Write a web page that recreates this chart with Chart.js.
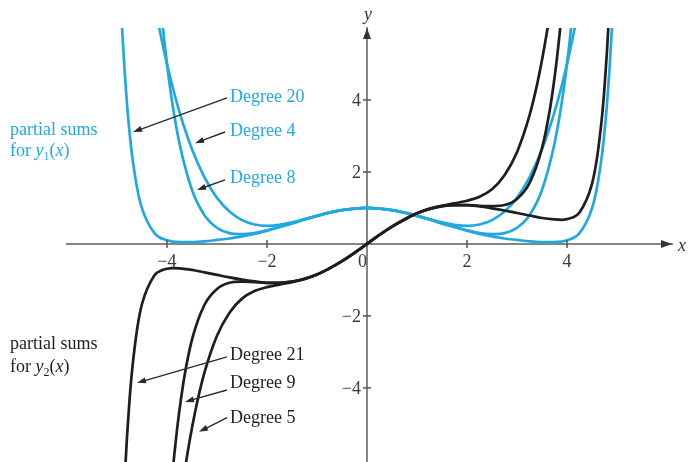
<!DOCTYPE html>
<html>
<head>
<meta charset="utf-8">
<script src="https://cdn.jsdelivr.net/npm/chart.js@4.4.1/dist/chart.umd.min.js"></script>
<style>
  html, body { margin: 0; padding: 0; background: #fff; }
  #wrap { width: 689px; height: 462px; }
</style>
</head>
<body>
<div id="wrap"><canvas id="seriesChart" width="689" height="462"></canvas></div>
<script>
// Partial sums for y1(x) (blue) as [x, y]
const y1Degree4 = [
  [-4.2, 6.31], [-4.1, 5.63], [-4, 5.0], [-3.9, 4.43], [-3.75, 3.66], [-3.5, 2.63], [-3.25, 1.85],
  [-3, 1.28], [-2.75, 0.90], [-2.5, 0.66], [-2.25, 0.54], [-2, 0.50], [-1.75, 0.53], [-1.5, 0.60],
  [-1.25, 0.69], [-1, 0.78], [-0.75, 0.87], [-0.5, 0.94], [-0.25, 0.98], [0, 1],
  [0.25, 0.98], [0.5, 0.94], [0.75, 0.87], [1, 0.78], [1.25, 0.69], [1.5, 0.60], [1.75, 0.53],
  [2, 0.50], [2.25, 0.54], [2.5, 0.66], [2.75, 0.90], [3, 1.28], [3.25, 1.85], [3.5, 2.63],
  [3.75, 3.66], [3.9, 4.43], [4, 5.0], [4.1, 5.63], [4.2, 6.31]
];
const y1Degree8 = [
  [-4.1, 6.25], [-4.05, 5.60], [-4, 5.0], [-3.9, 3.97], [-3.75, 2.79], [-3.5, 1.50], [-3.25, 0.80],
  [-3, 0.45], [-2.75, 0.30], [-2.5, 0.27], [-2.25, 0.30], [-2, 0.375], [-1.75, 0.47], [-1.5, 0.57],
  [-1.25, 0.68], [-1, 0.78], [-0.75, 0.87], [-0.5, 0.94], [-0.25, 0.98], [0, 1],
  [0.25, 0.98], [0.5, 0.94], [0.75, 0.87], [1, 0.78], [1.25, 0.68], [1.5, 0.57], [1.75, 0.47],
  [2, 0.375], [2.25, 0.30], [2.5, 0.27], [2.75, 0.30], [3, 0.45], [3.25, 0.80], [3.5, 1.50],
  [3.75, 2.79], [3.9, 3.97], [4, 5.0], [4.05, 5.60], [4.1, 6.25]
];
const y1Degree20 = [
  [-4.95, 7.49], [-4.9, 6.03], [-4.85, 4.85], [-4.8, 3.89], [-4.75, 3.11], [-4.7, 2.48], [-4.6, 1.57],
  [-4.5, 0.99], [-4.25, 0.30], [-4, 0.10], [-3.75, 0.05], [-3.5, 0.05], [-3.25, 0.07], [-3, 0.11],
  [-2.75, 0.15], [-2.5, 0.21], [-2.25, 0.28], [-2, 0.37], [-1.75, 0.47], [-1.5, 0.57], [-1.25, 0.68],
  [-1, 0.78], [-0.75, 0.87], [-0.5, 0.94], [-0.25, 0.98], [0, 1],
  [0.25, 0.98], [0.5, 0.94], [0.75, 0.87], [1, 0.78], [1.25, 0.68], [1.5, 0.57], [1.75, 0.47],
  [2, 0.37], [2.25, 0.28], [2.5, 0.21], [2.75, 0.15], [3, 0.11], [3.25, 0.07], [3.5, 0.05],
  [3.75, 0.05], [4, 0.10], [4.25, 0.30], [4.5, 0.99], [4.6, 1.57], [4.7, 2.48], [4.75, 3.11],
  [4.8, 3.89], [4.85, 4.85], [4.9, 6.03], [4.95, 7.49]
];

// Partial sums for y2(x) (black)
const y2Degree5 = [
  [-3.65, -6.34], [-3.6, -5.90], [-3.55, -5.49], [-3.5, -5.11], [-3.4, -4.42], [-3.25, -3.57],
  [-3, -2.55], [-2.75, -1.91], [-2.5, -1.52], [-2.25, -1.31], [-2, -1.20], [-1.75, -1.13],
  [-1.5, -1.06], [-1.25, -0.98], [-1, -0.85], [-0.75, -0.68], [-0.5, -0.48], [-0.25, -0.25], [0, 0],
  [0.25, 0.25], [0.5, 0.48], [0.75, 0.68], [1, 0.85], [1.25, 0.98], [1.5, 1.06], [1.75, 1.13],
  [2, 1.20], [2.25, 1.31], [2.5, 1.52], [2.75, 1.91], [3, 2.55], [3.25, 3.57], [3.4, 4.42],
  [3.5, 5.11], [3.55, 5.49], [3.6, 5.90], [3.65, 6.34]
];
const y2Degree9 = [
  [-3.9, -6.52], [-3.85, -5.80], [-3.8, -5.17], [-3.75, -4.61], [-3.65, -3.67], [-3.5, -2.66],
  [-3.25, -1.69], [-3, -1.25], [-2.75, -1.08], [-2.5, -1.05], [-2.25, -1.06], [-2, -1.08],
  [-1.75, -1.08], [-1.5, -1.05], [-1.25, -0.97], [-1, -0.85], [-0.75, -0.68], [-0.5, -0.48],
  [-0.25, -0.25], [0, 0],
  [0.25, 0.25], [0.5, 0.48], [0.75, 0.68], [1, 0.85], [1.25, 0.97], [1.5, 1.05], [1.75, 1.08],
  [2, 1.08], [2.25, 1.06], [2.5, 1.05], [2.75, 1.08], [3, 1.25], [3.25, 1.69], [3.5, 2.66],
  [3.65, 3.67], [3.75, 4.61], [3.8, 5.17], [3.85, 5.80], [3.9, 6.52]
];
const y2Degree21 = [
  [-4.85, -6.63], [-4.8, -5.36], [-4.75, -4.35], [-4.7, -3.54], [-4.6, -2.39], [-4.5, -1.67],
  [-4.25, -0.87], [-4.1, -0.73], [-4, -0.69], [-3.9, -0.67], [-3.75, -0.68], [-3.5, -0.72],
  [-3.25, -0.79], [-3, -0.86], [-2.75, -0.93], [-2.5, -0.99], [-2.25, -1.04], [-2, -1.08],
  [-1.75, -1.08], [-1.5, -1.05], [-1.25, -0.97], [-1, -0.85], [-0.75, -0.68], [-0.5, -0.48],
  [-0.25, -0.25], [0, 0],
  [0.25, 0.25], [0.5, 0.48], [0.75, 0.68], [1, 0.85], [1.25, 0.97], [1.5, 1.05], [1.75, 1.08],
  [2, 1.08], [2.25, 1.04], [2.5, 0.99], [2.75, 0.93], [3, 0.86], [3.25, 0.79], [3.5, 0.72],
  [3.75, 0.68], [3.9, 0.67], [4, 0.69], [4.1, 0.73], [4.25, 0.87], [4.5, 1.67], [4.6, 2.39],
  [4.7, 3.54], [4.75, 4.35], [4.8, 5.36], [4.85, 6.63]
];

const xTickValues = [-4, -2, 0, 2, 4];
const yTickValues = [-4, -2, 2, 4];

const BLUE = 'rgb(33,168,225)';
const BLACK = '#1e1e1e';
const AXIS = '#858585';
const SERIF = '"Liberation Serif", "DejaVu Serif", serif';

// callouts: text anchor and arrow, in data units
const callouts = [
  { text: 'Degree 20', color: BLUE,  at: [-2.74, 4.08],  from: [-2.8, 4.06],  to: [-4.68, 3.11] },
  { text: 'Degree 4',  color: BLUE,  at: [-2.74, 3.14],  from: [-2.84, 3.11], to: [-3.44, 2.80] },
  { text: 'Degree 8',  color: BLUE,  at: [-2.74, 1.83],  from: [-2.84, 1.78], to: [-3.40, 1.50] },
  { text: 'Degree 21', color: BLACK, at: [-2.74, -3.09], from: [-2.8, -3.14], to: [-4.60, -3.86] },
  { text: 'Degree 9',  color: BLACK, at: [-2.74, -3.86], from: [-2.8, -4.06], to: [-3.64, -4.39] },
  { text: 'Degree 5',  color: BLACK, at: [-2.74, -4.84], from: [-2.8, -4.83], to: [-3.36, -5.22] }
];
const groupNotes = [
  { color: BLUE,  sub: '1', at: [-7.14, 3.17], gap: 0.6 },
  { color: BLACK, sub: '2', at: [-7.14, -2.8], gap: 0.64 }
];

const minusLabel = v => (v < 0 ? '\u2212' + Math.abs(v) : (v === 0 ? '0\u2002' : String(v)));

function arrow(ctx, x1, y1, x2, y2) {
  const a = Math.atan2(y2 - y1, x2 - x1);
  const len = 9, half = 3;
  ctx.beginPath();
  ctx.moveTo(x1, y1);
  ctx.lineTo(x2 - Math.cos(a) * len * 0.8, y2 - Math.sin(a) * len * 0.8);
  ctx.stroke();
  ctx.beginPath();
  ctx.moveTo(x2, y2);
  ctx.lineTo(x2 - Math.cos(a) * len - Math.sin(a) * half, y2 - Math.sin(a) * len + Math.cos(a) * half);
  ctx.lineTo(x2 - Math.cos(a) * len + Math.sin(a) * half, y2 - Math.sin(a) * len - Math.cos(a) * half);
  ctx.closePath();
  ctx.fill();
}

const figureNotes = {
  id: 'figureNotes',
  afterDraw(chart) {
    const { ctx, scales: { x, y } } = chart;
    const px = v => x.getPixelForValue(v);
    const py = v => y.getPixelForValue(v);
    const x0 = px(0), y0 = py(0);
    ctx.save();

    // tick marks crossing the axes
    ctx.strokeStyle = '#555';
    ctx.lineWidth = 1.5;
    xTickValues.filter(v => v !== 0).forEach(v => {
      ctx.beginPath(); ctx.moveTo(px(v), y0 - 4); ctx.lineTo(px(v), y0 + 4); ctx.stroke();
    });
    yTickValues.forEach(v => {
      ctx.beginPath(); ctx.moveTo(x0 - 4, py(v)); ctx.lineTo(x0 + 4, py(v)); ctx.stroke();
    });

    // y tick labels, right-aligned left of the axis
    ctx.fillStyle = '#3a3a3a';
    ctx.font = '18px ' + SERIF;
    ctx.textAlign = 'right';
    ctx.textBaseline = 'middle';
    y.ticks.forEach(t => ctx.fillText(minusLabel(t.value), x0 - 6, py(t.value) + 1));

    // arrowheads at the axis ends + axis names
    ctx.fillStyle = '#333';
    const xe = px(x.max), ye = py(y.max);
    ctx.beginPath(); ctx.moveTo(xe, y0); ctx.lineTo(xe - 11, y0 - 4); ctx.lineTo(xe - 11, y0 + 4); ctx.closePath(); ctx.fill();
    ctx.beginPath(); ctx.moveTo(x0, ye); ctx.lineTo(x0 - 4, ye + 11); ctx.lineTo(x0 + 4, ye + 11); ctx.closePath(); ctx.fill();
    ctx.font = 'italic 18px ' + SERIF;
    ctx.textAlign = 'center';
    ctx.fillText('y', x0 + 1, ye - 13);
    ctx.textAlign = 'left';
    ctx.fillText('x', xe + 6, y0 + 2);

    // callouts
    callouts.forEach(c => {
      ctx.strokeStyle = '#2a2a2a';
      ctx.fillStyle = '#2a2a2a';
      ctx.lineWidth = 1.4;
      arrow(ctx, px(c.from[0]), py(c.from[1]), px(c.to[0]), py(c.to[1]));
      ctx.fillStyle = c.color;
      ctx.font = '18px ' + SERIF;
      ctx.textAlign = 'left';
      ctx.fillText(c.text, px(c.at[0]), py(c.at[1]));
    });

    // "partial sums for y_n(x)"
    groupNotes.forEach(g => {
      const lx = px(g.at[0]);
      const l1 = py(g.at[1]);
      const l2 = py(g.at[1] - g.gap);
      ctx.fillStyle = g.color;
      ctx.textAlign = 'left';
      ctx.font = '18px ' + SERIF;
      ctx.fillText('partial sums', lx, l1);
      let cx = lx;
      const put = (t, font, dy) => {
        ctx.font = font;
        ctx.fillText(t, cx, l2 + (dy || 0));
        cx += ctx.measureText(t).width;
      };
      put('for ', '18px ' + SERIF);
      put('y', 'italic 18px ' + SERIF);
      put(g.sub, '12px ' + SERIF, 5);
      put('(', '18px ' + SERIF);
      put('x', 'italic 18px ' + SERIF);
      put(')', '18px ' + SERIF);
    });
    ctx.restore();
  }
};

const toPoints = arr => arr.map(([x, y]) => ({ x, y }));
const curve = (label, pts, color) => ({
  label,
  data: toPoints(pts),
  borderColor: color,
  borderWidth: 2.7,
  pointRadius: 0,
  cubicInterpolationMode: 'monotone',
  clip: 0,
  fill: false
});

// center-placed axes should not eat into the plot area
const noPadding = s => { s.paddingTop = 0; s.paddingBottom = 0; s.paddingLeft = 0; s.paddingRight = 0; };

new Chart(document.getElementById('seriesChart'), {
  type: 'line',
  data: {
    datasets: [
      curve('y2 degree 21', y2Degree21, BLACK),
      curve('y2 degree 9', y2Degree9, BLACK),
      curve('y2 degree 5', y2Degree5, BLACK),
      curve('y1 degree 20', y1Degree20, BLUE),
      curve('y1 degree 8', y1Degree8, BLUE),
      curve('y1 degree 4', y1Degree4, BLUE)
    ]
  },
  options: {
    responsive: false,
    animation: false,
    events: [],
    layout: { padding: { left: 67, right: 17, top: 28, bottom: 0 } },
    plugins: { legend: { display: false }, tooltip: { enabled: false } },
    scales: {
      x: {
        type: 'linear',
        min: -6,
        max: 6.1,
        position: { y: 0 },
        afterBuildTicks: s => { s.ticks = xTickValues.map(v => ({ value: v })); },
        afterFit: noPadding,
        border: { color: AXIS, width: 2 },
        grid: { drawOnChartArea: false, drawTicks: true, tickLength: 5, tickColor: 'rgba(0,0,0,0)' },
        ticks: {
          autoSkip: false, maxRotation: 0, padding: 3,
          color: '#3a3a3a', font: { family: SERIF, size: 18 },
          callback: minusLabel
        }
      },
      y: {
        type: 'linear',
        min: -6.06,
        max: 6,
        position: { x: 0 },
        afterBuildTicks: s => { s.ticks = yTickValues.map(v => ({ value: v })); },
        afterFit: noPadding,
        border: { color: AXIS, width: 2 },
        grid: { drawOnChartArea: false, drawTicks: false },
        ticks: { display: false }
      }
    }
  },
  plugins: [figureNotes]
});
</script>
</body>
</html>
